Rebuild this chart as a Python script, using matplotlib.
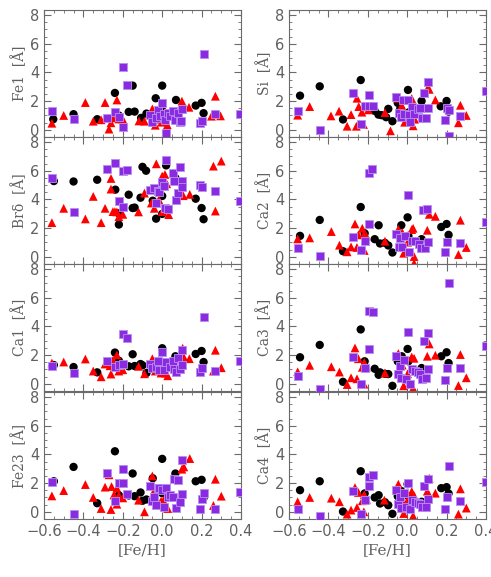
import matplotlib
matplotlib.use("Agg")
import matplotlib.pyplot as plt
from matplotlib.ticker import MultipleLocator

# ---------------- data ----------------
panel_labels = ["Fe1", "Si", "Br\u03b4", "Ca2", "Ca1", "Ca3", "Fe23", "Ca4"]
x_label = "[Fe/H]"
x_ticks = [-0.6, -0.4, -0.2, 0.0, 0.2, 0.4]
y_ticks = [0, 2, 4, 6, 8]

# Fe1
fe1_blk_x = [-0.553, -0.45, -0.33, -0.24, -0.22, -0.17, -0.15, -0.14, -0.107, -0.08, -0.033, 0.0, 0.0, 0.07, 0.17, 0.2, 0.21]
fe1_blk_y = [0.74, 1.09, 0.74, 2.57, 1.0, 1.25, 3.08, 1.27, 0.83, 1.13, 2.2, 3.08, 1.32, 2.08, 1.69, 1.88, 1.16]
fe1_red_x = [-0.56, -0.5, -0.39, -0.35, -0.31, -0.29, -0.27, -0.26, -0.25, -0.23, -0.22, -0.2, -0.118, -0.09, -0.05, -0.035, -0.025, -0.003, 0.016, 0.026, 0.03, 0.04, 0.1, 0.136, 0.25, 0.27, 0.296]
fe1_red_y = [0.46, 1.0, 1.9, 0.6, 0.7, 1.9, 0.05, 0.49, 0.83, 2.08, 0.76, 0.74, 0.62, 0.6, 1.46, 0.32, 0.74, 0.53, 1.25, 0.35, 1.0, 1.16, 2.0, 1.57, 0.95, 2.34, 0.97]
fe1_pur_x = [-0.56, -0.45, -0.28, -0.24, -0.22, -0.2, -0.2, -0.18, -0.06, -0.05, -0.03, -0.02, -0.012, 0.0, 0.007, 0.012, 0.018, 0.028, 0.04, 0.056, 0.063, 0.08, 0.09, 0.095, 0.1, 0.19, 0.2, 0.21, 0.27, 0.395]
fe1_pur_y = [1.32, 0.76, 0.79, 1.25, 0.86, 4.4, 0.19, 3.15, 1.04, 0.56, 0.79, 1.39, 0.97, 1.9, 1.13, 0.69, -0.19, 1.16, 0.97, 1.32, 0.69, 1.16, 0.56, 0.63, 1.46, 0.46, 0.63, 5.28, 1.13, 1.11]

# Si
si_blk_x = [-0.544, -0.444, -0.326, -0.236, -0.165, -0.146, -0.13, -0.107, -0.096, -0.075, -0.048, -0.035, 0.004, 0.01, 0.073, 0.17, 0.2, 0.21]
si_blk_y = [2.38, 3.03, 0.72, 3.47, 1.32, 1.06, 1.02, 0.88, 1.46, 0.6, 1.88, 1.48, 2.78, 1.23, 2.01, 1.64, 2.01, 1.27]
si_red_x = [-0.556, -0.495, -0.387, -0.346, -0.305, -0.285, -0.258, -0.255, -0.246, -0.23, -0.222, -0.21, -0.197, -0.113, -0.085, -0.045, -0.028, -0.013, 0.0, 0.007, 0.023, 0.03, 0.038, 0.104, 0.112, 0.143, 0.26, 0.27, 0.3]
si_red_y = [1.02, 1.62, 0.97, 1.3, 0.25, 1.06, 0.25, 2.2, 1.62, 1.23, 0.37, 1.6, 1.39, 1.2, -0.07, 2.2, 1.71, 0.53, 0.74, 0.97, 2.18, 0.28, 0.74, 2.9, 2.82, 2.08, 0.49, 1.71, 1.0]
si_pur_x = [-0.556, -0.444, -0.277, -0.235, -0.216, -0.196, -0.196, -0.175, -0.057, -0.043, -0.03, -0.02, -0.015, 0.002, 0.009, 0.012, 0.023, 0.035, 0.056, 0.063, 0.073, 0.085, 0.094, 0.104, 0.105, 0.19, 0.2, 0.21, 0.21, 0.27, 0.398]
si_pur_y = [1.32, 0.0, 2.55, 0.39, 1.69, 2.43, 1.69, 1.64, 2.27, 1.2, 0.9, 2.08, 1.09, 2.08, 1.06, 0.53, 1.57, 1.13, 1.46, 1.55, 0.83, 2.55, 0.83, 3.36, 1.53, 0.67, 1.5, 1.39, -0.45, 0.95, 2.7]

# Br delta
br_blk_x = [-0.55, -0.45, -0.33, -0.238, -0.22, -0.22, -0.17, -0.15, -0.14, -0.11, -0.1, -0.082, -0.048, -0.031, 0.0, 0.0, 0.02, 0.067, 0.17, 0.2, 0.21]
br_blk_y = [5.28, 5.25, 5.37, 4.68, 2.25, 3.03, 4.33, 3.4, 3.43, 4.12, 6.27, 6.0, 3.91, 2.66, 4.24, 2.99, 6.37, 5.49, 4.05, 3.4, 2.62]
br_red_x = [-0.56, -0.5, -0.39, -0.35, -0.31, -0.29, -0.26, -0.26, -0.25, -0.24, -0.23, -0.22, -0.2, -0.12, -0.09, -0.055, -0.04, -0.03, -0.017, 0.0, 0.0, 0.014, 0.023, 0.033, 0.107, 0.14, 0.26, 0.27, 0.3]
br_red_y = [2.38, 3.38, 2.64, 4.21, 2.38, 3.38, 5.46, 4.72, 3.15, 3.15, 3.13, 2.8, 2.96, 3.13, 4.44, 3.75, 3.38, 6.48, 3.98, 5.63, 3.15, 5.74, 5.09, 2.94, 4.26, 4.35, 6.32, 3.19, 6.67]
br_pur_x = [-0.56, -0.45, -0.28, -0.24, -0.22, -0.2, -0.18, -0.2, -0.064, -0.04, -0.031, -0.023, -0.014, 0.0, 0.007, 0.012, 0.018, 0.03, 0.056, 0.06, 0.07, 0.08, 0.09, 0.1, 0.1, 0.19, 0.2, 0.27, 0.395]
br_pur_y = [5.51, 3.1, 6.11, 6.53, 3.91, 6.0, 6.04, 3.47, 4.63, 4.81, 3.73, 4.58, 4.51, 5.19, 4.95, 3.43, 6.76, 3.33, 5.81, 5.25, 3.96, 4.47, 6.25, 5.25, 4.86, 5.0, 4.88, 4.58, 3.91]

# Ca2
ca2_blk_x = [-0.544, -0.444, -0.326, -0.236, -0.216, -0.165, -0.145, -0.138, -0.113, -0.096, -0.075, -0.03, 0.002, 0.006, 0.073, 0.173, 0.2, 0.21]
ca2_blk_y = [1.46, 2.57, 0.39, 3.47, 1.64, 1.23, 2.2, 0.93, 0.97, 0.79, 0.3, 2.2, 2.75, 1.46, 1.23, 2.08, 2.29, 1.53]
ca2_red_x = [-0.556, -0.495, -0.385, -0.344, -0.305, -0.285, -0.265, -0.255, -0.248, -0.228, -0.22, -0.218, -0.207, -0.113, -0.045, -0.025, -0.018, 0.002, 0.023, 0.03, 0.035, 0.035, 0.102, 0.112, 0.143, 0.26, 0.27, 0.3]
ca2_red_y = [1.25, 1.32, 1.76, 0.81, 0.35, 0.69, 2.29, 0.65, 1.53, 1.99, 1.55, 0.44, 1.44, 1.09, 1.92, 1.69, 0.25, 1.02, 1.9, 1.99, 0.02, -0.45, 1.85, 2.96, 2.82, 0.16, 2.55, 0.65]
ca2_pur_x = [-0.556, -0.444, -0.277, -0.235, -0.216, -0.194, -0.177, -0.196, -0.057, -0.043, -0.036, -0.025, -0.013, 0.002, 0.01, 0.024, 0.038, 0.062, 0.07, 0.08, 0.09, 0.102, 0.104, 0.19, 0.2, 0.27, 0.398]
ca2_pur_y = [0.6, 0.09, 1.41, 0.49, 1.13, 5.83, 6.13, 2.27, 1.6, 0.67, 1.34, 0.67, 1.48, 4.28, 0.32, 1.09, 1.09, 0.9, 0.6, 3.29, 0.6, 3.33, 1.06, 0.32, 1.02, 0.93, 2.43]

# Ca1
ca1_blk_x = [-0.55, -0.45, -0.33, -0.24, -0.22, -0.17, -0.15, -0.14, -0.11, -0.1, -0.08, -0.048, 0.0, 0.0, 0.067, 0.17, 0.2, 0.21]
ca1_blk_y = [1.31, 1.17, 0.8, 2.18, 1.61, 1.22, 2.06, 1.24, 1.38, 1.29, 0.75, 1.05, 2.48, 1.19, 1.92, 2.08, 2.29, 1.52]
ca1_red_x = [-0.56, -0.5, -0.39, -0.35, -0.31, -0.29, -0.265, -0.26, -0.25, -0.23, -0.22, -0.2, -0.12, -0.09, -0.05, -0.035, -0.006, 0.016, 0.028, 0.036, 0.104, 0.11, 0.138, 0.26, 0.27, 0.3]
ca1_red_y = [1.45, 1.52, 1.73, 0.89, 0.49, 1.38, 1.26, 0.68, 1.64, 2.01, 0.89, 0.98, 1.22, 0.7, 1.75, 0.89, 0.75, 0.75, 0.56, 1.4, 2.48, 1.85, 1.75, 0.89, 2.34, 1.12]
ca1_pur_x = [-0.56, -0.45, -0.28, -0.24, -0.22, -0.2, -0.18, -0.2, -0.06, -0.05, -0.03, -0.02, -0.014, 0.0, 0.008, 0.02, 0.04, 0.056, 0.06, 0.07, 0.08, 0.09, 0.1, 0.1, 0.19, 0.2, 0.21, 0.27, 0.395]
ca1_pur_y = [1.24, 0.77, 1.57, 1.15, 1.31, 3.44, 3.18, 1.36, 1.38, 1.12, 1.19, 1.57, 0.98, 2.25, 0.98, 1.52, 1.17, 1.57, 1.05, 0.82, 1.8, 1.05, 2.39, 1.33, 0.82, 1.1, 4.63, 0.89, 1.59]

# Ca3
ca3_blk_x = [-0.544, -0.444, -0.326, -0.236, -0.216, -0.165, -0.145, -0.138, -0.113, -0.096, -0.075, -0.048, -0.028, 0.002, 0.006, 0.073, 0.173, 0.2, 0.21]
ca3_blk_y = [1.85, 2.71, 0.14, 3.79, 1.57, 1.05, 0.63, 0.8, 0.7, 0.68, -0.14, 1.57, 1.92, 2.43, 1.57, 1.1, 1.92, 2.2, 1.45]
ca3_red_x = [-0.556, -0.495, -0.385, -0.344, -0.305, -0.285, -0.265, -0.255, -0.248, -0.228, -0.22, -0.218, -0.207, -0.113, -0.045, -0.025, -0.018, 0.002, 0.023, 0.03, 0.035, 0.102, 0.112, 0.143, 0.26, 0.27, 0.3]
ca3_red_y = [0.84, 1.29, 1.19, 0.82, -0.05, 0.42, 2.5, 0.35, 1.75, 1.15, -0.02, 1.5, 1.17, 0.75, 2.11, 1.31, -0.14, 0.7, 1.87, -0.3, 1.78, 1.92, 2.78, 1.99, -0.12, 2.04, 0.42]
ca3_pur_x = [-0.556, -0.444, -0.277, -0.235, -0.216, -0.196, -0.196, -0.175, -0.057, -0.048, -0.036, -0.03, -0.015, -0.006, 0.002, 0.012, 0.023, 0.038, 0.056, 0.063, 0.073, 0.085, 0.094, 0.104, 0.105, 0.19, 0.2, 0.21, 0.27, 0.398]
ca3_pur_y = [0.58, -0.36, 1.85, 0.02, 1.08, 2.43, 5.05, 5.0, 1.92, 0.65, 1.22, 0.4, 1.68, 0.35, 3.63, 0.0, 1.05, 0.91, 0.82, 0.7, 0.35, 2.97, 0.42, 3.51, 1.05, 0.28, 1.12, 7.02, 1.08, 2.62]

# Fe23
fe23_blk_x = [-0.55, -0.45, -0.33, -0.24, -0.22, -0.17, -0.15, -0.14, -0.11, -0.1, -0.08, -0.048, -0.031, 0.0, 0.0, 0.067, 0.17, 0.2, 0.21]
fe23_blk_y = [2.13, 3.13, 0.6, 4.22, 1.16, 1.14, 2.67, 1.09, 1.35, 0.77, 0.86, 2.34, 1.48, 3.69, 1.3, 2.67, 2.13, 2.23, 0.97]
fe23_red_x = [-0.56, -0.5, -0.39, -0.35, -0.31, -0.29, -0.27, -0.26, -0.257, -0.245, -0.23, -0.23, -0.22, -0.2, -0.12, -0.09, -0.05, -0.035, -0.006, 0.006, 0.028, 0.036, 0.1, 0.11, 0.14, 0.26, 0.27, 0.3]
fe23_red_y = [1.11, 1.48, 1.9, 1.0, 0.23, 1.72, 2.58, 0.16, 1.76, 1.18, 1.65, 0.53, 1.16, 0.97, 0.81, 0.0, 2.5, 1.62, 0.74, 0.79, 0.23, 1.23, 2.97, 3.13, 3.71, 0.44, 2.27, 1.09]
fe23_pur_x = [-0.56, -0.45, -0.28, -0.24, -0.22, -0.2, -0.2, -0.18, -0.06, -0.05, -0.04, -0.03, -0.023, -0.014, 0.0, 0.008, 0.018, 0.028, 0.04, 0.056, 0.06, 0.07, 0.08, 0.09, 0.1, 0.1, 0.19, 0.2, 0.21, 0.27, 0.395]
fe23_pur_y = [2.11, -0.16, 2.71, 0.74, 2.02, 2.02, 2.95, 1.21, 1.83, 0.74, 1.04, 0.51, 1.69, 1.69, 1.53, 0.35, 1.69, 1.04, 1.18, 1.04, 2.3, 0.3, 2.2, 0.7, 3.62, 1.23, 0.23, 0.88, 1.28, 0.23, 1.35]

# Ca4
ca4_blk_x = [-0.544, -0.444, -0.326, -0.236, -0.216, -0.165, -0.145, -0.138, -0.113, -0.096, -0.075, -0.048, -0.031, 0.002, 0.006, 0.073, 0.173, 0.2, 0.21]
ca4_blk_y = [1.51, 2.13, 0.02, 2.83, 1.28, 1.0, 1.16, 0.58, 0.67, 0.46, -0.14, 1.09, 1.46, 1.93, 1.09, 0.7, 1.65, 1.72, 1.28]
ca4_red_x = [-0.556, -0.495, -0.385, -0.344, -0.305, -0.285, -0.265, -0.255, -0.248, -0.228, -0.22, -0.218, -0.207, -0.116, -0.045, -0.025, -0.018, 0.002, 0.023, 0.03, 0.036, 0.102, 0.112, 0.143, 0.26, 0.27, 0.3]
ca4_red_y = [0.7, 1.0, 0.95, 0.7, -0.16, 0.12, 1.69, 0.3, 1.35, 0.77, 0.0, 1.21, 0.88, 0.81, 1.93, 0.77, -0.12, 0.81, 1.42, -0.28, 1.11, 1.44, 2.34, 1.3, -0.16, 1.6, 0.26]
ca4_pur_x = [-0.556, -0.444, -0.277, -0.235, -0.216, -0.196, -0.196, -0.175, -0.057, -0.047, -0.036, -0.03, -0.015, -0.006, 0.004, 0.012, 0.023, 0.038, 0.056, 0.063, 0.073, 0.085, 0.094, 0.104, 0.105, 0.19, 0.2, 0.21, 0.27, 0.398]
ca4_pur_y = [0.19, -0.26, 1.44, -0.14, 0.81, 1.79, 2.44, 2.55, 1.53, 0.53, 1.0, 0.3, 1.3, 0.35, 2.0, 0.21, 0.81, 0.7, 0.6, 0.53, 0.37, 1.83, 0.35, 2.27, 0.88, 0.23, 1.04, 3.22, 0.77, 2.11]

panels = [
    (fe1_blk_x, fe1_blk_y, fe1_red_x, fe1_red_y, fe1_pur_x, fe1_pur_y),
    (si_blk_x, si_blk_y, si_red_x, si_red_y, si_pur_x, si_pur_y),
    (br_blk_x, br_blk_y, br_red_x, br_red_y, br_pur_x, br_pur_y),
    (ca2_blk_x, ca2_blk_y, ca2_red_x, ca2_red_y, ca2_pur_x, ca2_pur_y),
    (ca1_blk_x, ca1_blk_y, ca1_red_x, ca1_red_y, ca1_pur_x, ca1_pur_y),
    (ca3_blk_x, ca3_blk_y, ca3_red_x, ca3_red_y, ca3_pur_x, ca3_pur_y),
    (fe23_blk_x, fe23_blk_y, fe23_red_x, fe23_red_y, fe23_pur_x, fe23_pur_y),
    (ca4_blk_x, ca4_blk_y, ca4_red_x, ca4_red_y, ca4_pur_x, ca4_pur_y),
]

# ---------------- figure ----------------
W, H = 491, 577
fig = plt.figure(figsize=(W / 100, H / 100), dpi=100)

grey = "#6a6a6a"
txt = "#606060"
purple = "#8a2be2"
purple_edge = "#b890f0"

col_left = [44, 289]
pw = 197
row_top = [10, 137, 264, 392]
ph = 127

for i, (bx, by, rx, ry, px, py) in enumerate(panels):
    r, c = divmod(i, 2)
    left = col_left[c] / W
    bottom = (H - row_top[r] - ph) / H
    ax = fig.add_axes([left, bottom, pw / W, ph / H])
    ax.set_xlim(-0.6, 0.4)
    ax.set_ylim(-0.5, 8.35)

    ax.scatter(bx, by, marker="o", s=36, color="black", edgecolors="none", zorder=3)
    ax.scatter(rx, ry, marker="^", s=40, color="red", edgecolors="none", zorder=3)
    ax.scatter(px, py, marker="s", s=34, color=purple, edgecolors=purple_edge,
               linewidths=0.6, zorder=4)

    ax.xaxis.set_major_locator(MultipleLocator(0.2))
    ax.xaxis.set_minor_locator(MultipleLocator(0.05))
    ax.yaxis.set_major_locator(MultipleLocator(2))
    ax.yaxis.set_minor_locator(MultipleLocator(0.5))
    ax.tick_params(which="both", direction="in", top=True, right=True, colors=grey,
                   labelcolor=txt, labelsize=10.5)
    ax.tick_params(which="major", length=5, width=0.8)
    ax.tick_params(which="minor", length=2.5, width=0.6)
    for sp in ax.spines.values():
        sp.set_color(grey)
        sp.set_linewidth(0.8)

    ax.set_yticks(y_ticks)
    ax.set_ylabel(panel_labels[i] + "  [\u00c5]", color=txt, fontsize=10,
                  family="DejaVu Serif", labelpad=2)
    if r == 3:
        ax.set_xticks(x_ticks)
        ax.set_xticklabels(["\u22120.6", "\u22120.4", "\u22120.2", "0.0", "0.2", "0.4"])
        ax.set_xlabel(x_label, color=txt, fontsize=11, family="DejaVu Serif", labelpad=3)
    else:
        ax.tick_params(labelbottom=False)

fig.savefig("out.png", dpi=100)
